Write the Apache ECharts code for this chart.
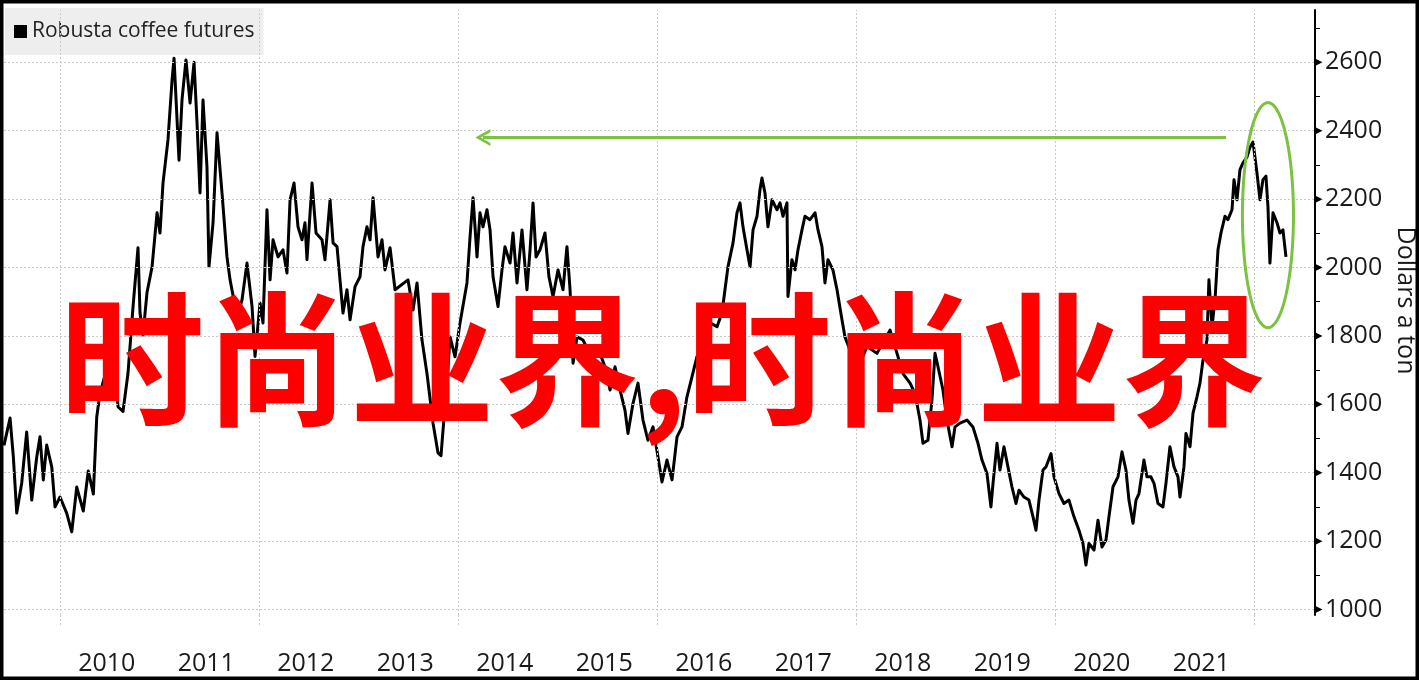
<!DOCTYPE html>
<html>
<head>
<meta charset="utf-8">
<script src="https://cdn.jsdelivr.net/npm/echarts@6/dist/echarts.min.js"></script>
<style>
html,body{margin:0;padding:0;background:#fff;}
#chart{width:1419px;height:680px;}
</style>
</head>
<body>
<div id="chart"></div>
<script>
// ---- data (decimal years, dollars a ton) ----
const years = [
2009.437,2009.498,2009.531,2009.565,2009.615,2009.665,2009.716,2009.766,2009.799,2009.832,2009.866,2009.917,2009.950,
2010.000,2010.067,2010.118,2010.168,2010.234,2010.284,2010.335,2010.369,2010.402,2010.533,2010.583,2010.633,2010.683,
2010.734,2010.784,2010.804,2010.834,2010.874,2010.925,2010.975,2011.005,2011.035,2011.085,2011.126,2011.146,2011.196,
2011.226,2011.266,2011.307,2011.347,2011.377,2011.407,2011.437,2011.477,2011.497,2011.538,2011.578,2011.628,2011.678,
2011.709,2011.779,2011.829,2011.879,2011.930,2011.960,2012.010,2012.040,2012.080,2012.111,2012.141,2012.191,2012.241,
2012.281,2012.312,2012.352,2012.392,2012.432,2012.462,2012.482,2012.533,2012.573,2012.633,2012.663,2012.714,2012.744,
2012.784,2012.814,2012.844,2012.884,2012.915,2012.965,2013.015,2013.045,2013.085,2013.116,2013.146,2013.196,2013.236,
2013.266,2013.317,2013.367,2013.497,2013.548,2013.588,2013.638,2013.688,2013.749,2013.799,2013.829,2013.859,2013.889,
2013.920,2013.970,2014.020,2014.090,2014.121,2014.151,2014.191,2014.221,2014.251,2014.291,2014.322,2014.352,2014.402,
2014.442,2014.472,2014.523,2014.553,2014.593,2014.643,2014.693,2014.724,2014.754,2014.784,2014.824,2014.874,2014.914,
2014.955,2015.005,2015.055,2015.095,2015.126,2015.156,2015.196,2015.256,2015.306,2015.357,2015.427,2015.477,2015.528,
2015.578,2015.628,2015.678,2015.708,2015.759,2015.809,2015.859,2015.909,2015.960,2016.010,2016.050,2016.100,2016.151,
2016.201,2016.251,2016.301,2016.352,2016.402,2016.462,2016.533,2016.603,2016.653,2016.683,2016.713,2016.764,2016.804,
2016.834,2016.864,2016.904,2016.935,2016.965,2017.005,2017.035,2017.055,2017.085,2017.115,2017.156,2017.206,2017.236,
2017.266,2017.306,2017.316,2017.356,2017.387,2017.417,2017.457,2017.487,2017.537,2017.588,2017.618,2017.658,2017.688,
2017.718,2017.768,2017.809,2017.859,2017.889,2017.939,2018.010,2018.070,2018.110,2018.211,2018.342,2018.412,2018.472,
2018.543,2018.593,2018.643,2018.673,2018.723,2018.763,2018.794,2018.824,2018.874,2018.914,2018.965,2018.995,2019.045,
2019.115,2019.175,2019.226,2019.266,2019.316,2019.356,2019.377,2019.417,2019.447,2019.487,2019.527,2019.567,2019.608,
2019.638,2019.688,2019.738,2019.779,2019.809,2019.839,2019.879,2019.909,2019.960,2019.990,2020.040,2020.090,2020.140,
2020.191,2020.241,2020.281,2020.311,2020.341,2020.392,2020.432,2020.472,2020.512,2020.542,2020.583,2020.633,2020.673,
2020.713,2020.743,2020.784,2020.814,2020.844,2020.894,2020.924,2020.964,2020.995,2021.035,2021.085,2021.115,2021.155,
2021.196,2021.236,2021.256,2021.296,2021.316,2021.357,2021.387,2021.427,2021.457,2021.487,2021.527,2021.547,2021.578,
2021.608,2021.638,2021.668,2021.708,2021.738,2021.779,2021.799,2021.829,2021.859,2021.889,2021.929,2021.960,2021.990,
2022.030,2022.060,2022.090,2022.120,2022.140,2022.160,2022.191,2022.231,2022.261,2022.291,2022.321
];
const prices = [
1480,1560,1446,1282,1370,1519,1320,1446,1505,1379,1481,1417,1300,
1329,1282,1227,1358,1288,1405,1338,1563,1633,1769,1593,1579,1690,
1886,2058,1867,1803,1926,2002,2160,2101,2247,2373,2548,2612,2314,
2490,2607,2481,2600,2423,2218,2490,2294,2002,2131,2394,2218,2031,
1964,1856,1905,2013,1886,1740,1896,1838,2169,1964,2081,2031,2052,
1984,2198,2247,2119,2081,2131,2023,2247,2101,2081,2023,2198,2072,
2061,1964,1867,1935,1847,1944,1973,2061,2119,2081,2204,2031,2081,
1993,2058,1935,1964,1876,1955,1788,1690,1545,1458,1450,1560,1662,
1797,1739,1838,1955,2090,2204,2031,2160,2119,2169,2110,1973,1886,
1993,2061,2013,2101,1955,2110,1935,2052,2189,2031,2052,2101,1973,
1915,1993,1935,2061,1935,1720,1797,1788,1759,1740,1749,1710,1642,
1710,1642,1583,1515,1603,1662,1554,1495,1534,1446,1373,1437,1379,
1505,1534,1622,1681,1740,1759,1838,1827,1867,1935,2002,2072,2160,
2189,2119,2052,2002,2110,2150,2228,2262,2218,2119,2198,2169,2189,
2150,2189,1915,2023,1993,2052,2110,2150,2140,2160,2110,2061,1955,
2023,1993,1935,1847,1797,1759,1769,1740,1769,1749,1817,1749,1690,
1662,1632,1554,1486,1495,1612,1749,1710,1642,1554,1476,1534,1545,
1554,1534,1486,1437,1398,1300,1369,1486,1408,1476,1417,1359,1310,
1349,1329,1320,1271,1232,1320,1408,1417,1456,1388,1339,1310,1320,
1271,1232,1193,1130,1193,1174,1261,1183,1203,1271,1359,1388,1461,
1408,1320,1252,1320,1339,1437,1388,1388,1369,1310,1300,1369,1476,
1417,1388,1329,1417,1515,1476,1574,1622,1662,1729,1788,1964,1827,
1905,2052,2101,2150,2140,2169,2257,2198,2286,2306,2323,2352,2367,
2276,2198,2257,2267,2179,2013,2160,2131,2101,2110,2031
];
const seriesName = 'Robusta coffee futures';
const xLabelYears = [2010,2011,2012,2013,2014,2015,2016,2017,2018,2019,2020,2021];
const xGridYears = [2010,2012,2014,2016,2018,2020,2022];
const yLabelValues = [1000,1200,1400,1600,1800,2000,2200,2400,2600];
const yTickValues = [1000,1100,1200,1300,1400,1500,1600,1700,1800,1900,2000,2100,2200,2300,2400,2500,2600,2700];
const arrowLine = {fromYear: 2014.25, toYear: 2021.72, value: 2380};
const ellipseNote = {year: 2022.14, value: 2153, halfYears: 0.2565, halfValue: 329};
const overlayText = '时尚业界,时尚业界';

const X_MIN = 2009.437, X_MAX = 2022.613, Y_MIN = 984, Y_MAX = 2753;
const GREEN = '#7cc242';
const GRID_COLOR = '#c9c9c9';
const FONT = '"Open Sans", "Noto Sans", sans-serif';

const chart = echarts.init(document.getElementById('chart'), null, {renderer: 'canvas'});

const gridLines = [];
yLabelValues.forEach(v => gridLines.push({yAxis: v}));
xGridYears.forEach(y => gridLines.push({xAxis: y}));

const tickMarks = yLabelValues.map(v => ({coord: [X_MAX, v]}));

const option = {
  animation: false,
  backgroundColor: '#ffffff',
  grid: {left: 4, right: 104, top: 10, bottom: 65, containLabel: false, outerBoundsMode: 'none'},
  legend: {
    data: [{name: seriesName, icon: 'rect'}],
    left: 5, top: 8,
    padding: [13, 9, 13, 9],
    backgroundColor: 'rgba(222,222,222,0.5)',
    itemWidth: 13, itemHeight: 13,
    textStyle: {fontSize: 21, color: '#222', fontFamily: FONT},
    selectedMode: false
  },
  xAxis: {
    type: 'value', min: X_MIN, max: X_MAX,
    axisLine: {show: false},
    splitLine: {show: false},
    axisTick: {show: true, customValues: xGridYears, length: 12, lineStyle: {color: GRID_COLOR, type: [2, 2]}},
    axisLabel: {
      customValues: xLabelYears.map(y => y + 0.47),
      formatter: v => String(Math.floor(v)),
      fontSize: 25, color: '#1a1a1a', fontFamily: FONT, margin: 36
    }
  },
  yAxis: {
    type: 'value', position: 'right', min: Y_MIN, max: Y_MAX,
    axisLine: {show: true, lineStyle: {color: '#000', width: 2}},
    splitLine: {show: false},
    axisTick: {show: true, customValues: yTickValues, length: 5, inside: false, lineStyle: {color: '#000', width: 1}},
    axisLabel: {customValues: yLabelValues, formatter: v => String(Math.round(v)), fontSize: 25, color: '#1a1a1a', fontFamily: FONT, margin: 10},
    name: 'Dollars a ton', nameLocation: 'middle', nameRotate: -90, nameGap: 66,
    nameTextStyle: {fontSize: 25, color: '#1a1a1a', fontFamily: FONT, padding: [0, 24, 0, 0]}
  },
  series: [
    {
      name: 'gridlines', type: 'line', data: [], z: 1, silent: true,
      markLine: {
        silent: true, symbol: ['none', 'none'], label: {show: false},
        lineStyle: {color: GRID_COLOR, width: 1, type: [2, 2]},
        emphasis: {disabled: true},
        data: gridLines
      },
      markPoint: {
        silent: true, symbol: 'triangle', symbolRotate: -90, symbolSize: [7, 7], symbolOffset: [4, 0],
        itemStyle: {color: '#000'}, label: {show: false},
        data: tickMarks
      }
    },
    {
      name: seriesName, type: 'line', z: 3,
      data: years.map((t, i) => [t, prices[i]]),
      showSymbol: false, symbol: 'none',
      itemStyle: {color: '#000'},
      lineStyle: {color: '#000', width: 3, join: 'round'},
      clip: true
    },
    {
      name: 'arrow', type: 'line', data: [], z: 4, silent: true,
      markLine: {
        silent: true,
        symbol: ['path://M8,0 L16,14 L13,14 L8,5 L3,14 L0,14 Z', 'none'],
        symbolSize: [17, 15],
        label: {show: false},
        lineStyle: {color: GREEN, width: 3, type: 'solid'},
        itemStyle: {color: GREEN},
        data: [[{coord: [arrowLine.fromYear, arrowLine.value]}, {coord: [arrowLine.toYear, arrowLine.value]}]]
      }
    },
    {
      name: 'ellipse', type: 'custom', z: 5, silent: true,
      data: [[ellipseNote.year, ellipseNote.value, ellipseNote.halfYears, ellipseNote.halfValue]],
      renderItem: function (params, api) {
        const c = api.coord([api.value(0), api.value(1)]);
        const s = api.size([api.value(2), api.value(3)]);
        const pts = [];
        for (let k = 0; k < 120; k++) {
          const a = k / 120 * Math.PI * 2;
          pts.push([c[0] + s[0] * Math.cos(a), c[1] + s[1] * Math.sin(a)]);
        }
        return {type: 'polygon', shape: {points: pts}, style: {fill: 'none', stroke: GREEN, lineWidth: 3}};
      },
      clip: false
    }
  ],
  graphic: [
    {
      type: 'text', z: 100, silent: true,
      x: 663, y: 360,
      style: {
        text: overlayText,
        fill: '#ff0000',
        font: 'bold 145px "Noto Sans CJK SC"',
        align: 'center', verticalAlign: 'middle',
        textAlign: 'center', textVerticalAlign: 'middle'
      }
    },
    {
      type: 'rect', z: 200, silent: true,
      shape: {x: 0, y: 0, width: 1419, height: 680},
      style: {fill: 'none', stroke: '#000', lineWidth: 7}
    }
  ]
};
chart.setOption(option);
</script>
</body>
</html>
